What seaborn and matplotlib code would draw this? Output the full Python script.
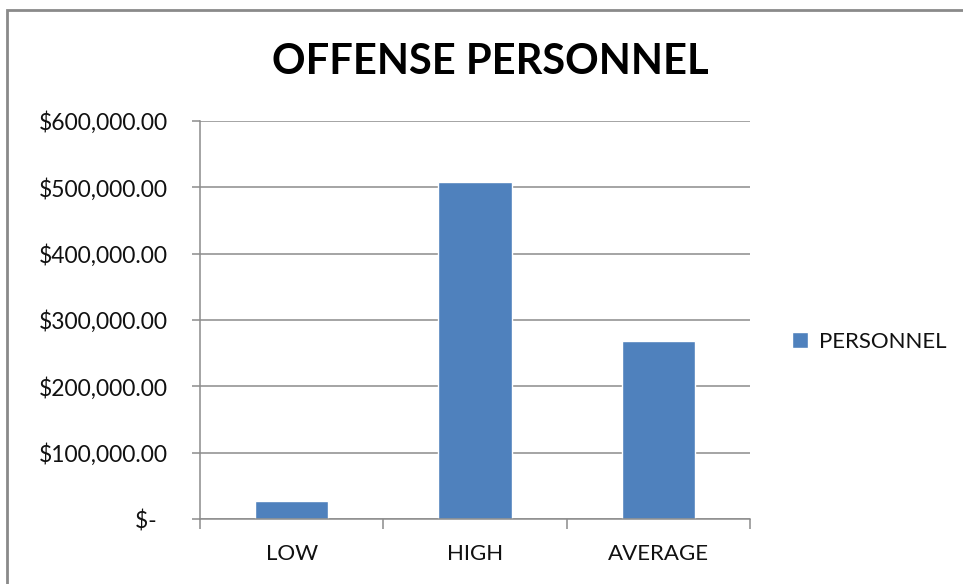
import matplotlib
matplotlib.use("Agg")
import matplotlib.pyplot as plt
import seaborn as sns
import pandas as pd
from matplotlib.patches import Rectangle
from matplotlib.ticker import FuncFormatter, FixedLocator

# data
categories = ["LOW", "HIGH", "AVERAGE"]
personnel = [27000, 508000, 268000]
series_name = "PERSONNEL"

df = pd.DataFrame({"category": categories, "value": personnel})

sns.set_theme(style="white")
plt.rcParams["font.family"] = ["Lato", "DejaVu Sans"]

fig = plt.figure(figsize=(9.63, 5.84), dpi=100)
ax = fig.add_axes([0.2077, 0.1113, 0.5711, 0.6815])

bar_color = "#4F81BD"
sns.barplot(data=df, x="category", y="value", color=bar_color, width=0.4,
            saturation=1, label=series_name, ax=ax)

ax.set_ylim(0, 600000)
ax.set_xlim(-0.5, 2.5)
ax.set_yticks(range(0, 600001, 100000))


def money(v, pos):
    if v == 0:
        return "$-  "
    return "${:,.2f}".format(v)


ax.yaxis.set_major_formatter(FuncFormatter(money))
ax.yaxis.grid(True, color="#8c8c8c", linewidth=1.1)
ax.set_axisbelow(True)

for s in ["top", "right"]:
    ax.spines[s].set_visible(False)
for s in ["left", "bottom"]:
    ax.spines[s].set_color("#8c8c8c")
    ax.spines[s].set_linewidth(1.1)

ax.tick_params(axis="y", which="major", left=True, length=6, width=1.1,
               color="#8c8c8c", labelsize=16.5, pad=17, labelcolor="#111111")
ax.tick_params(axis="x", which="major", bottom=False, length=0,
               labelsize=16, pad=18, labelcolor="#111111")
ax.xaxis.set_minor_locator(FixedLocator([-0.5, 0.5, 1.5, 2.5]))
ax.tick_params(axis="x", which="minor", bottom=True, length=7, width=1.1,
               color="#8c8c8c")

ax.set_xlabel("")
ax.set_ylabel("")

fig.text(0.509, 0.893, "OFFENSE PERSONNEL", ha="center", va="center",
         fontsize=30, fontweight="bold", color="black")

leg = ax.legend(loc="center left", bbox_to_anchor=(1.04, 0.445), frameon=False,
                fontsize=16, handlelength=0.7, handleheight=0.7,
                handletextpad=0.5, labelcolor="#111111")

# outer chart border (cut off at right and bottom like the screenshot)
fig.patches.append(Rectangle((0.007, -0.1), 1.2, 1.083, transform=fig.transFigure,
                             fill=False, edgecolor="#8a8a8a", linewidth=2,
                             clip_on=False))

fig.savefig("out.png", dpi=100, facecolor="white")
